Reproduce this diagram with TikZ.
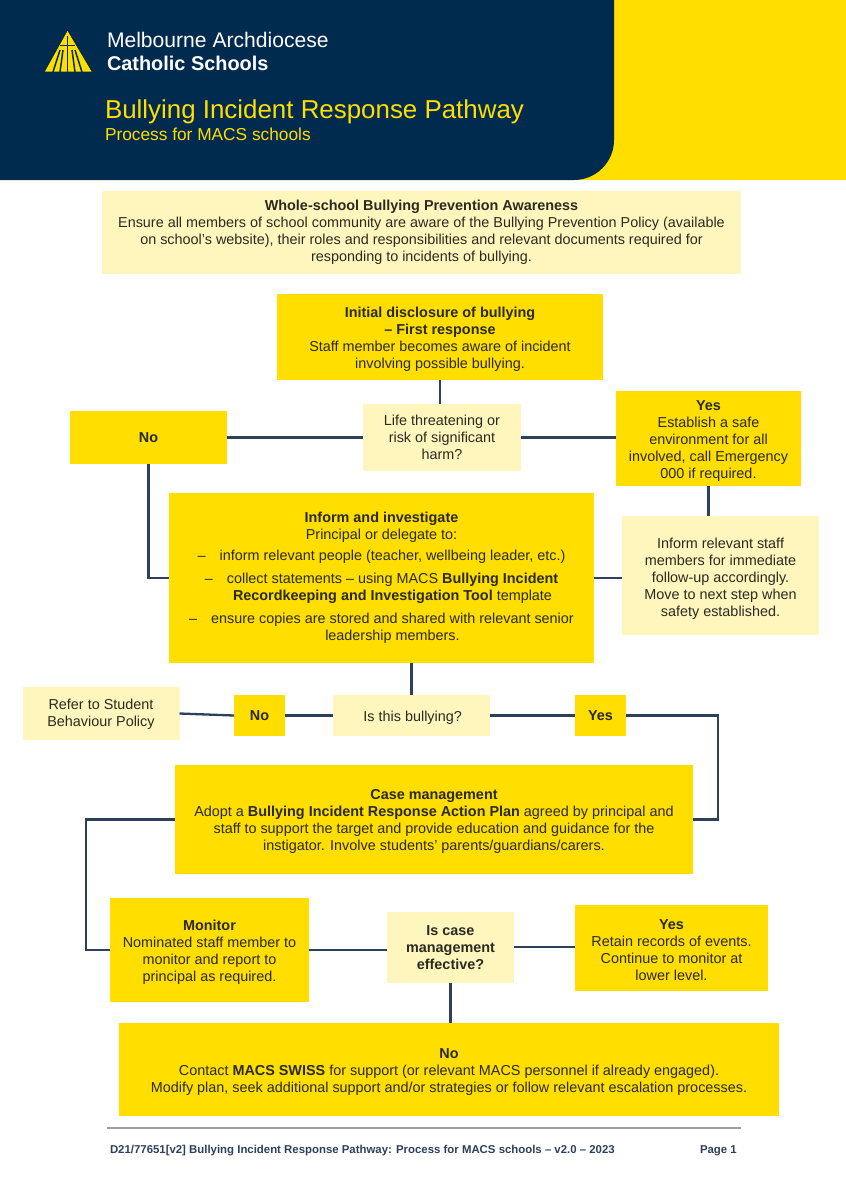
\documentclass[tikz,border=0pt]{standalone}
\usepackage{fontspec}
\setmainfont{Liberation Sans}
\usetikzlibrary{calc, positioning}
\definecolor{navym}{HTML}{002a4e}
\definecolor{yelm}{HTML}{ffde00}
\definecolor{palem}{HTML}{fff6bd}
\definecolor{linkm}{HTML}{2c405c}
\definecolor{inkm}{HTML}{2a2a20}
\newcommand{\topgap}[1][14]{\rule{0pt}{#1pt}}
\begin{document}
\begin{tikzpicture}[x=1pt,y=-1pt,
    element/.style 2 args={minimum width=#1pt,minimum height=#2pt,inner sep=0pt,outer sep=0pt,align=center,text=inkm,font=\fontsize{14.4}{17}\selectfont},
    strong/.style 2 args={element={#1}{#2},fill=yelm},
    pale/.style 2 args={element={#1}{#2},fill=palem},
    head/.style={anchor=base west,inner sep=0pt,outer sep=0pt},
    link/.style={draw=linkm,line width=2.3pt}]
    \useasboundingbox (0,0) rectangle (846,1200);

    \fill[yelm] (0,0) rectangle (846,180);
    \fill[navym] (0,0) -- (614,0) -- (614,140) arc[start angle=0,end angle=90,radius=40] -- (0,180) -- cycle;

    \fill[yelm] (67.5,31) -- (91.5,71.5) -- (45,71.5) -- cycle;
    \draw[navym,line width=1.2pt] (67.5,36) -- (67.5,72) (60,45.5) -- (75,45.5);
    \foreach \a/\b in {60/53, 63/60, 72/75, 75/82}
        \draw[navym,line width=1.5pt] (\a,50) -- (\b,72);

    \node[head,text=white,font=\fontsize{21.1}{22}\selectfont] (brandtop) at (107,47.5) {Melbourne Archdiocese};
    \node[head,text=white,font=\fontsize{19.9}{22}\selectfont\bfseries] (brandlow) at (107,70.5) {Catholic Schools};
    \node[head,text=yelm,font=\fontsize{25.9}{27}\selectfont] (title) at (105,118.5) {Bullying Incident Response Pathway};
    \node[head,text=yelm,font=\fontsize{17.3}{18}\selectfont] (subtitle) at (105,140.5) {Process for MACS schools};

    \node[pale={639}{83}] (whole) at (421.5,232.5) {\textbf{Whole-school Bullying Prevention Awareness}\\Ensure all members of school community are aware of the Bullying Prevention Policy (available\\on school’s website), their roles and responsibilities and relevant documents required for\\responding to incidents of bullying.};
    \node[strong={326}{86}] (disclosure) at (440,337) {\topgap\textbf{Initial disclosure of bullying}\\\textbf{– First response}\\Staff member becomes aware of incident\\involving possible bullying.};
    \node[pale={158}{67}] (life) at (442,437.5) {Life threatening or\\risk of significant\\harm?};
    \node[strong={157}{53}] (noa) at (148.5,437.5) {\textbf{No}};
    \node[strong={185}{95}] (yesa) at (708.5,438.5) {\topgap\textbf{Yes}\\Establish a safe\\environment for all\\involved, call Emergency\\000 if required.};
    \node[strong={425}{170}] (inform) at (381.5,578) {\textbf{Inform and investigate}\\Principal or delegate to:\\[4pt]–\hspace{14pt}inform relevant people (teacher, wellbeing leader, etc.)\\[6pt]–\hspace{14pt}collect statements – using MACS \textbf{Bullying Incident}\\\hspace{22pt}\textbf{Recordkeeping and Investigation Tool} template\\[6pt]–\hspace{14pt}ensure copies are stored and shared with relevant senior\\\hspace{22pt}leadership members.};
    \node[pale={197}{119}] (staff) at (720.5,575.5) {\topgap[17]Inform relevant staff\\members for immediate\\follow-up accordingly.\\Move to next step when\\safety established.};
    \node[pale={157}{53}] (refer) at (101,713.5) {\topgap[12]Refer to Student\\Behaviour Policy};
    \node[strong={51}{41}] (nob) at (259.5,715.5) {\textbf{No}};
    \node[pale={157}{41}] (bullying) at (411.5,715.5) {\topgap\,Is this bullying?};
    \node[strong={51}{41}] (yesb) at (600.5,715.5) {\textbf{Yes}};
    \node[strong={518}{109}] (case) at (434,819.5) {\topgap\textbf{Case management}\\Adopt a \textbf{Bullying Incident Response Action Plan} agreed by principal and\\staff to support the target and provide education and guidance for the\\instigator. Involve students’ parents/guardians/carers.};
    \node[strong={199}{104}] (monitor) at (209.5,950) {\topgap\textbf{Monitor}\\Nominated staff member to\\monitor and report to\\principal as required.};
    \node[pale={127}{71}] (effective) at (450.5,947) {\topgap[12]\textbf{Is case}\\\textbf{management}\\\textbf{effective?}};
    \node[strong={193}{86}] (yesc) at (671.5,948) {\topgap\textbf{Yes}\\Retain records of events.\\Continue to monitor at\\lower level.};
    \node[strong={660}{93}] (noc) at (449,1069.5) {\topgap\textbf{No}\\Contact \textbf{MACS SWISS} for support (or relevant MACS personnel if already engaged).\\Modify plan, seek additional support and/or strategies or follow relevant escalation processes.};

    \coordinate (caseturn) at (718,819.5);
    \coordinate (monitorturn) at (86,819.5);
    \draw[link] (disclosure.south) -- (disclosure.south |- life.north);
    \draw[link] (noa) -- (life);
    \draw[link] (life.east) -- (life.east -| yesa.west);
    \draw[link] (yesa.south) -- (yesa.south |- staff.north);
    \draw[link] (noa.south) |- (inform.west);
    \draw[link] (inform.east) -- (inform.east -| staff.west);
    \draw[link] (bullying.north) -- (bullying.north |- inform.south);
    \draw[link] (refer.east) -- (nob.west);
    \draw[link] (nob) -- (bullying);
    \draw[link] (bullying) -- (yesb);
    \draw[link] (yesb.east) -| (caseturn) -- (case.east);
    \draw[link] (case.west) -- (monitorturn) |- (monitor.west);
    \draw[link] (monitor.east) -- (monitor.east -| effective.west);
    \draw[link] (effective.east) -- (effective.east -| yesc.west);
    \draw[link] (effective.south) -- (effective.south |- noc.north);

    \coordinate (rulel) at (107,1127.5);
    \coordinate (ruler) at (741,1127.5);
    \draw[draw=black!38,line width=2pt] (rulel) -- (ruler);
    \node[head,text=linkm,font=\fontsize{11.4}{12}\selectfont\bfseries] (footer) at (110,1153) {D21/77651[v2] Bullying Incident Response Pathway: Process for MACS schools – v2.0 – 2023};
    \node[head,text=linkm,font=\fontsize{11.4}{12}\selectfont\bfseries] (page) at (700,1153) {Page 1};
\end{tikzpicture}
\end{document}
